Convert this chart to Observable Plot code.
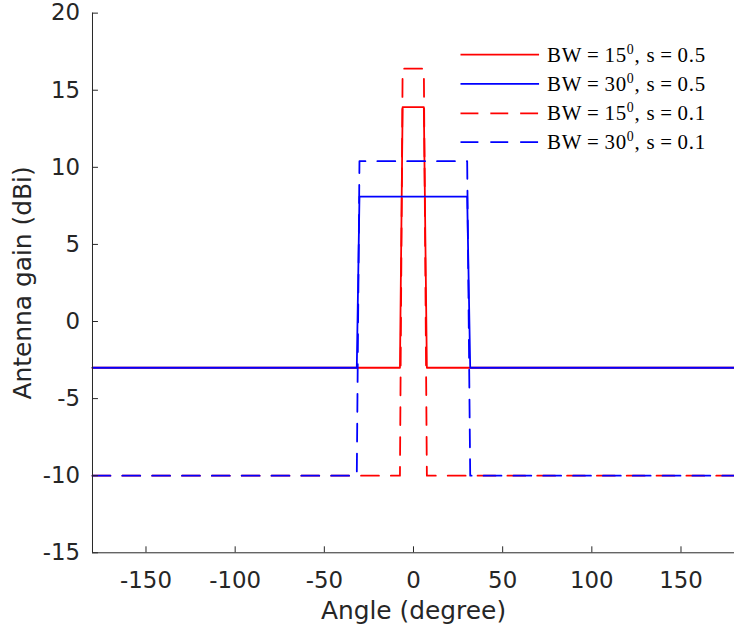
<!DOCTYPE html>
<html><head><meta charset="utf-8">
<script src="https://cdn.jsdelivr.net/npm/d3@7"></script>
<script src="https://cdn.jsdelivr.net/npm/@observablehq/plot@0.6"></script>
<style>body{margin:0;overflow:hidden;background:#fff}#chart{width:734px;overflow:hidden}</style>
</head><body><div id="chart"></div>
<script>
// Series (angle in degrees, gain in dBi)
const seriesLabels = ["BW=15", "BW=30", "BW=15", "BW=30"];
const seriesS = ["s=0.5", "s=0.5", "s=0.1", "s=0.1"];
const seriesColors = ["#ff0000", "#0000ff", "#ff0000", "#0000ff"];
const seriesDashed = [false, false, true, true];

const bw15s05Angle = [-180, -7.6, -6.1, 5.8, 7.5, 180];
const bw15s05Gain  = [-3, -3, 13.9, 13.9, -3, -3];
const bw30s05Angle = [-180, -31.8, -30.3, 30.1, 31.8, 180];
const bw30s05Gain  = [-3, -3, 8.1, 8.1, -3, -3];
const bw15s01Angle = [-180, -7.6, -6.1, 5.8, 7.5, 180];
const bw15s01Gain  = [-10, -10, 16.4, 16.4, -10, -10];
const bw30s01Angle = [-180, -31.8, -30.3, 30.1, 31.8, 180];
const bw30s01Gain  = [-10, -10, 10.4, 10.4, -10, -10];

const xTicks = [-150, -100, -50, 0, 50, 100, 150];
const yTicks = [-15, -10, -5, 0, 5, 10, 15, 20];

const allAngles = [bw15s05Angle, bw30s05Angle, bw15s01Angle, bw30s01Angle];
const allGains = [bw15s05Gain, bw30s05Gain, bw15s01Gain, bw30s01Gain];

const series = allAngles.map((a, i) => a.map((x, j) => ({x, y: allGains[i][j]})));

const ink = "#262626";
const dash = "18,12";
const sans = "'DejaVu Sans', Verdana, sans-serif";

const lineMarks = series.map((d, i) => Plot.line(d, {
  x: "x", y: "y", stroke: seriesColors[i], strokeWidth: 1.8,
  strokeDasharray: seriesDashed[i] ? dash : null, curve: "linear"
}));

const plot = Plot.plot({
  width: 738, height: 636,
  marginLeft: 92.5, marginRight: 0, marginTop: 12.7, marginBottom: 80.7,
  style: {fontFamily: sans, color: ink, background: "#fff"},
  x: {domain: [-180, 180]},
  y: {domain: [-15, 20]},
  marks: [
    ...lineMarks,
    Plot.axisX(xTicks, {anchor: "bottom", tickSize: -6, tickPadding: 25, fontSize: 23, tickFormat: d => String(d), label: null, stroke: ink, fill: ink}),
    Plot.axisY(yTicks, {anchor: "left", tickSize: -6, tickPadding: 18.5, fontSize: 23, tickFormat: d => String(d), label: null, stroke: ink, fill: ink}),
    Plot.ruleY([-15], {stroke: ink, strokeWidth: 1}),
    Plot.ruleX([-180], {stroke: ink, strokeWidth: 1}),
    Plot.text(["Angle (degree)"], {frameAnchor: "bottom", dy: 67, fontSize: 25, fill: ink}),
    Plot.text(["Antenna gain (dBi)"], {frameAnchor: "left", textAnchor: "middle", dx: -70, rotate: -90, fontSize: 25, fill: ink})
  ]
});

document.getElementById("chart").appendChild(plot);

// Legend (no box), drawn into the same SVG
const svg = d3.select(plot);
const legendRowsY = [55, 84.3, 114, 143];
const lg = svg.append("g").attr("class", "legend").attr("text-anchor", "start");
seriesLabels.forEach((lab, i) => {
  const y = legendRowsY[i];
  lg.append("line").attr("x1", 463).attr("x2", 542).attr("y1", y).attr("y2", y)
    .attr("stroke", seriesColors[i]).attr("stroke-width", 1.8)
    .attr("stroke-dasharray", seriesDashed[i] ? dash : null);
  const t = lg.append("text").attr("x", 550).attr("y", y + 7)
    .attr("text-anchor", "start")
    .attr("font-family", "'Liberation Serif', 'Times New Roman', serif")
    .attr("font-size", 21).attr("fill", "#000")
    .attr("textLength", 159).attr("lengthAdjust", "spacing");
  t.append("tspan").text(lab.replace("=", "\u2009=\u2009"));
  t.append("tspan").attr("dy", -8).attr("font-size", 14).text("0");
  t.append("tspan").attr("dy", 8).text(", " + seriesS[i].replace("=", "\u2009=\u2009"));
});
</script>
</body></html>
